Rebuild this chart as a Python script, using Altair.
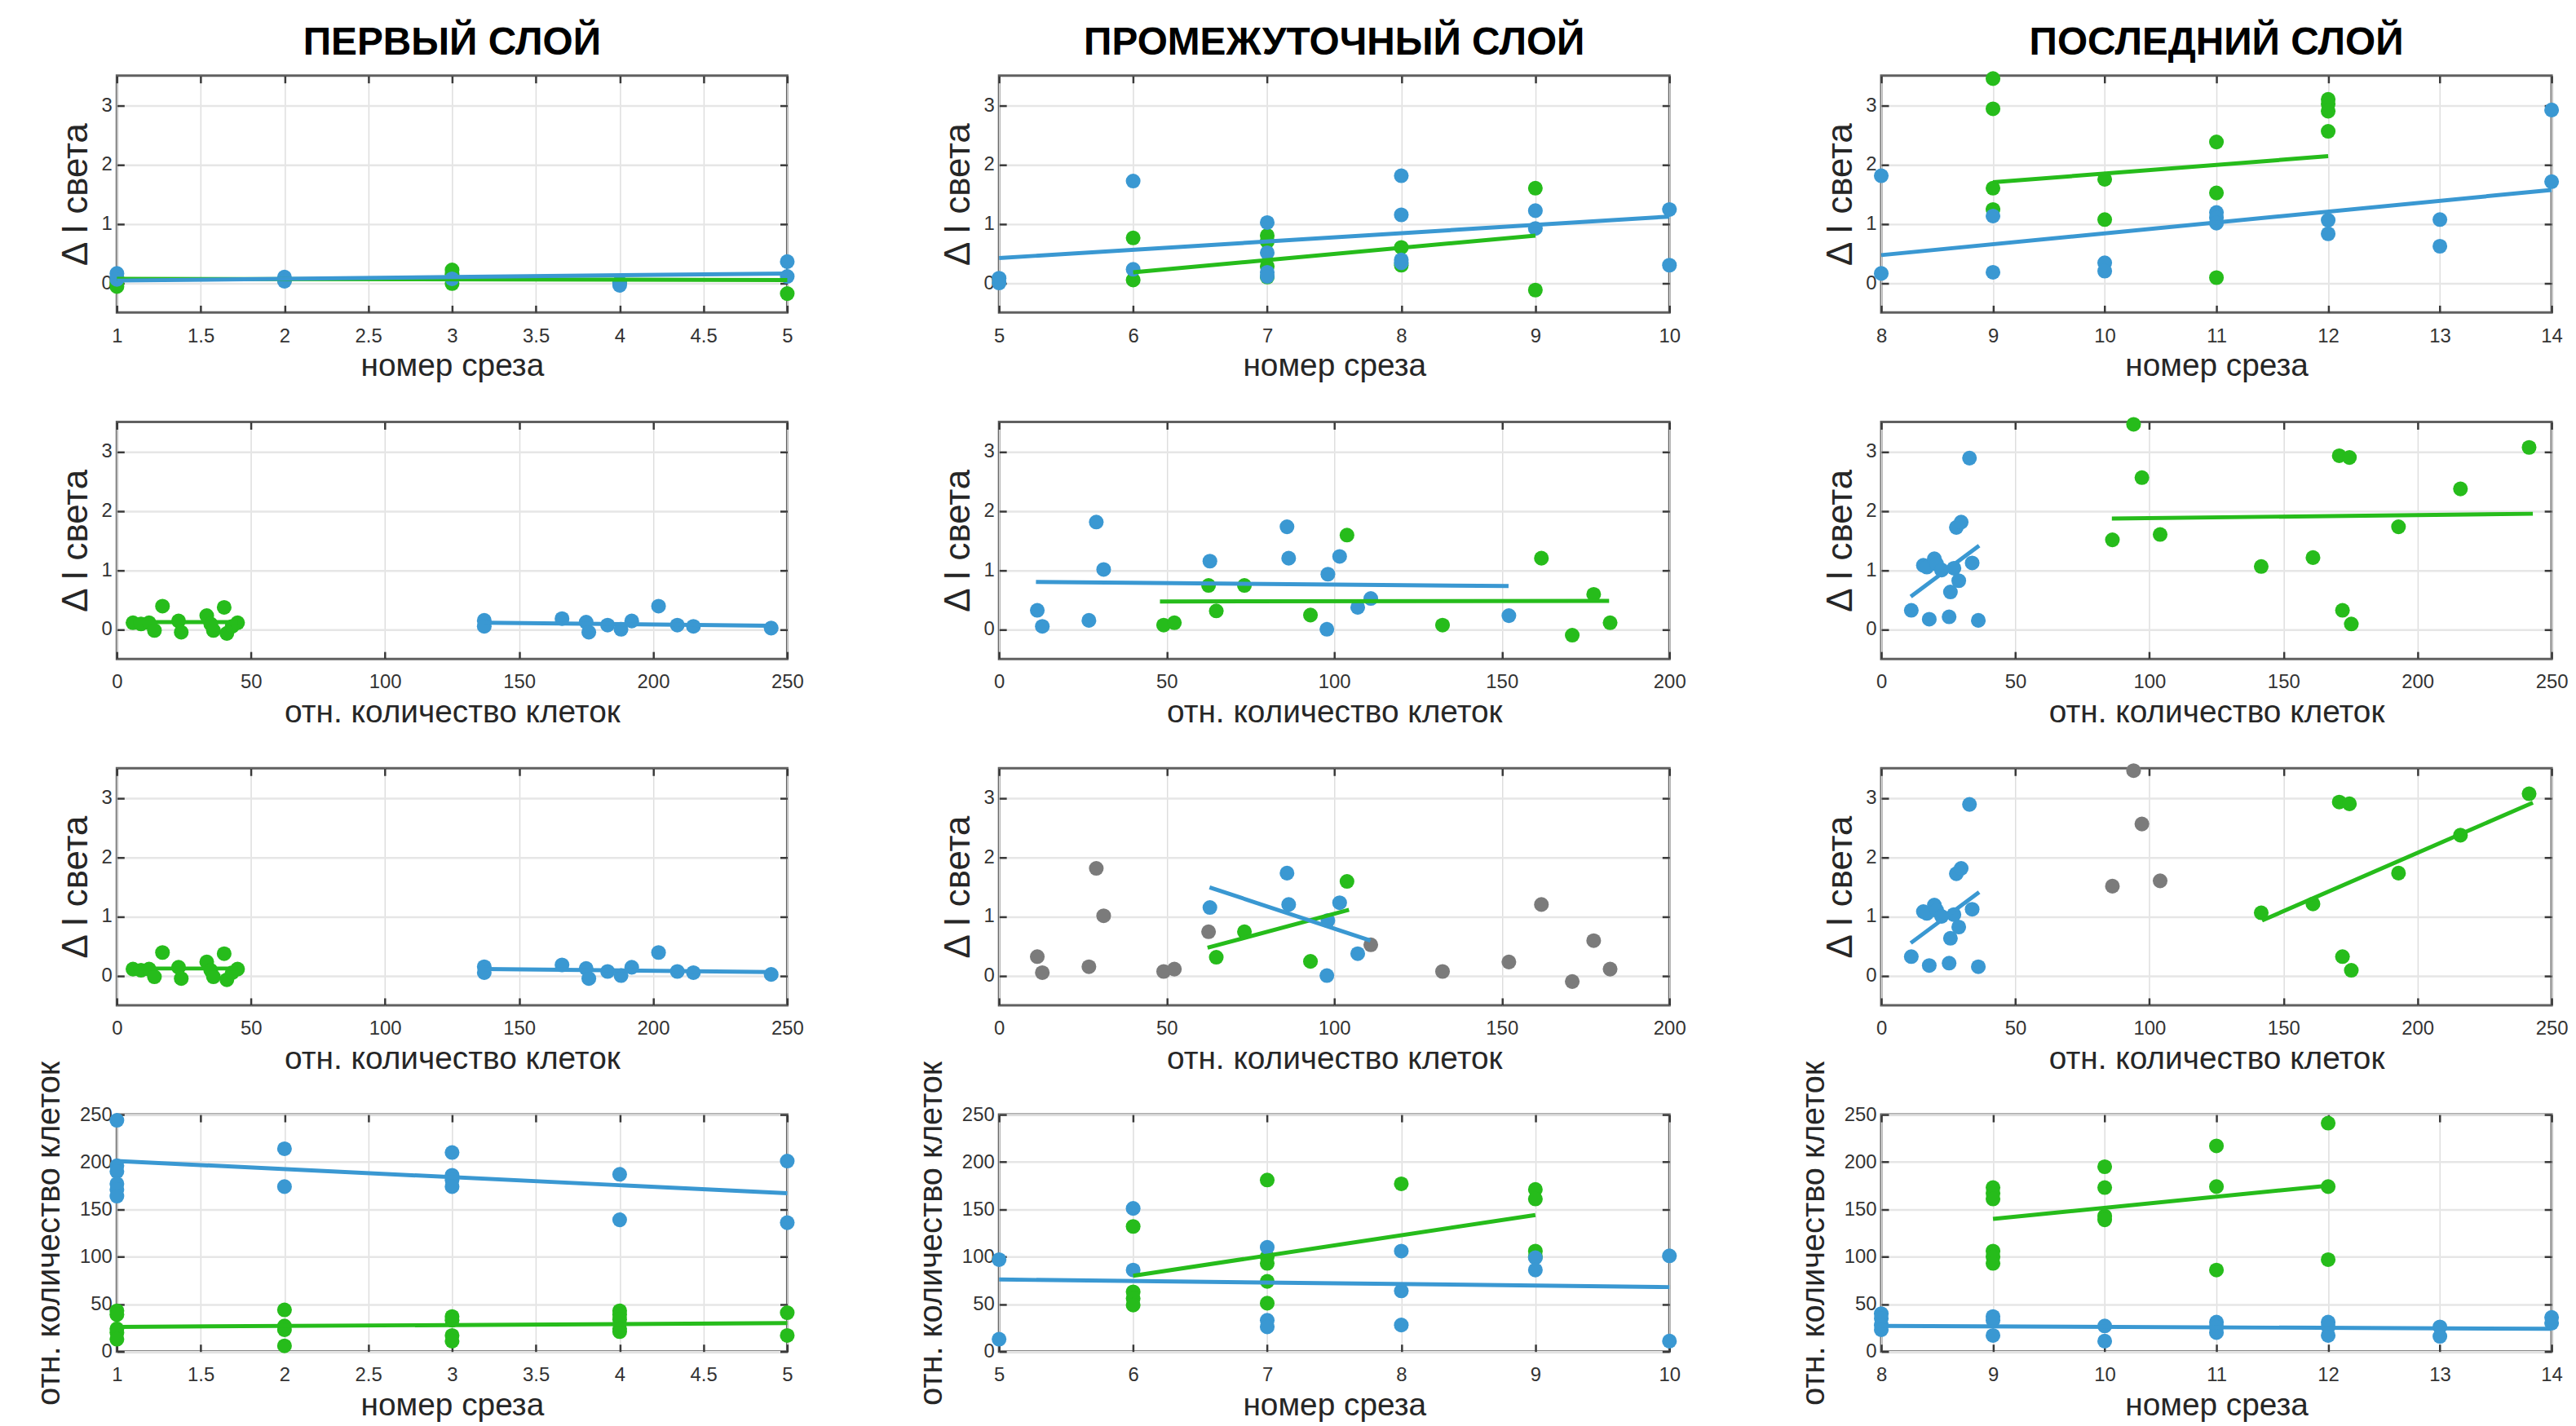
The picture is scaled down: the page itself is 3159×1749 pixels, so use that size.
import altair as alt
import pandas as pd

BLUE = "#3a98d2"
GREEN = "#26bc1b"
GRAY = "#7b7b7b"
FONT = "Liberation Sans"

col_titles = ["ПЕРВЫЙ СЛОЙ", "ПРОМЕЖУТОЧНЫЙ СЛОЙ", "ПОСЛЕДНИЙ СЛОЙ"]
x_title_slice = "номер среза"
x_title_cells = "отн. количество клеток"
y_title_light = "Δ I света"
y_title_cells = "отн. количество клеток"

slice_domains = [[1, 5], [5, 10], [8, 14]]
slice_ticks = [[1, 1.5, 2, 2.5, 3, 3.5, 4, 4.5, 5], [5, 6, 7, 8, 9, 10], [8, 9, 10, 11, 12, 13, 14]]
cells_domains = [[0, 250], [0, 200], [0, 250]]
cells_ticks = [[0, 50, 100, 150, 200, 250], [0, 50, 100, 150, 200], [0, 50, 100, 150, 200, 250]]
light_domain = [-0.5, 3.5]
light_ticks = [0, 1, 2, 3]
count_domain = [0, 250]
count_ticks = [0, 50, 100, 150, 200, 250]

# ---------- row 1: Δ I света vs номер среза ----------
r1c1_blue_x = [1, 1, 1, 2, 2, 3, 4, 4, 5, 5]
r1c1_blue_y = [0.16, 0.1, 0.06, 0.1, 0.03, 0.07, 0.01, -0.04, 0.36, 0.11]
r1c1_green_x = [1, 1, 2, 3, 3, 3, 4, 5]
r1c1_green_y = [0.0, -0.06, 0.05, 0.22, 0.15, -0.01, 0.0, -0.18]
r1c1_fit = {"green": (1, 0.07, 5, 0.05), "blue": (1, 0.04, 5, 0.16)}

r1c2_blue_x = [5, 5, 6, 6, 7, 7, 7, 7, 8, 8, 8, 8, 9, 9, 10, 10]
r1c2_blue_y = [0.08, 0.0, 1.72, 0.23, 1.02, 0.51, 0.18, 0.11, 1.81, 1.15, 0.39, 0.34, 1.22, 0.92, 1.24, 0.3]
r1c2_green_x = [6, 6, 7, 7, 7, 7, 8, 8, 9, 9]
r1c2_green_y = [0.76, 0.05, 0.8, 0.7, 0.28, 0.1, 0.6, 0.3, 1.6, -0.12]
r1c2_fit = {"green": (6, 0.18, 9, 0.8), "blue": (5, 0.42, 10, 1.12)}

r1c3_blue_x = [8, 8, 9, 9, 10, 10, 11, 11, 11, 12, 12, 13, 13, 14, 14]
r1c3_blue_y = [1.81, 0.16, 1.13, 0.18, 0.34, 0.2, 1.19, 1.1, 1.01, 1.06, 0.83, 1.07, 0.62, 2.92, 1.71]
r1c3_green_x = [9, 9, 9, 9, 10, 10, 11, 11, 11, 12, 12, 12, 12]
r1c3_green_y = [3.45, 2.94, 1.6, 1.24, 1.75, 1.07, 2.38, 1.52, 0.09, 3.1, 3.02, 2.9, 2.56]
r1c3_fit = {"green": (9, 1.7, 12, 2.14), "blue": (8, 0.47, 14, 1.57)}

# ---------- rows 2 and 3: Δ I света vs отн. количество клеток ----------
r2c1_blue_x = [137, 137, 166, 175, 176, 183, 188, 192, 202, 209, 215, 244]
r2c1_blue_y = [0.15, 0.05, 0.18, 0.12, -0.05, 0.07, 0.0, 0.14, 0.39, 0.07, 0.05, 0.02]
r2c1_green_x = [6, 9, 12, 14, 17, 23, 24, 33.5, 35, 36, 40, 41, 43, 45]
r2c1_green_y = [0.11, 0.09, 0.11, -0.02, 0.39, 0.14, -0.05, 0.23, 0.09, -0.02, 0.37, -0.07, 0.05, 0.11]
r2c1_fit = {"green": (6, 0.12, 45, 0.12), "blue": (137, 0.11, 244, 0.06)}

r2c2_blue_x = [11.4, 12.9, 26.8, 29, 31.2, 62.9, 85.9, 86.4, 98.1, 97.8, 101.6, 107, 110.9, 152.1]
r2c2_blue_y = [0.32, 0.05, 0.15, 1.81, 1.01, 1.15, 1.73, 1.2, 0.93, 0.0, 1.23, 0.37, 0.52, 0.23]
r2c2_green_x = [49.1, 52.3, 62.5, 64.8, 73.2, 92.9, 103.8, 132.3, 161.8, 171, 177.4, 182.3]
r2c2_green_y = [0.07, 0.11, 0.74, 0.31, 0.74, 0.24, 1.59, 0.07, 1.2, -0.1, 0.59, 0.11]
r2c2_fit = {"green": (48, 0.47, 182, 0.48), "blue": (11, 0.8, 152, 0.73)}

r2c3_blue_x = [11.2, 17.9, 25.3, 36.2, 15.7, 17, 19.8, 20.7, 22.5, 25.8, 27.1, 28, 29.8, 28.9, 32.9, 33.9]
r2c3_blue_y = [0.32, 0.17, 0.21, 0.15, 1.08, 1.05, 1.19, 1.1, 1.0, 0.63, 1.03, 1.72, 1.81, 0.82, 2.89, 1.12]
r2c3_green_x = [86.2, 94.1, 97.2, 104, 141.7, 161, 170.8, 174.6, 172, 175.3, 192.9, 216, 241.6]
r2c3_green_y = [1.51, 3.46, 2.56, 1.6, 1.06, 1.21, 2.93, 2.9, 0.32, 0.09, 1.73, 2.37, 3.07]
r2c3_fit = {"green": (86, 1.87, 243, 1.95), "blue": (11, 0.55, 36.5, 1.41)}

# row 3 re-uses the row-2 points; some of them are greyed out
r3c1_blue_cls = ["blue"] * 12
r3c1_green_cls = ["green"] * 14
r3c1_fit = {"green": (6, 0.12, 45, 0.12), "blue": (137, 0.11, 244, 0.06)}

r3c2_blue_cls = ["gray", "gray", "gray", "gray", "gray", "blue", "blue", "blue", "blue", "blue", "blue", "blue", "gray", "gray"]
r3c2_green_cls = ["gray", "gray", "gray", "green", "green", "green", "green", "gray", "gray", "gray", "gray", "gray"]
r3c2_fit = {"green": (62.2, 0.47, 104.4, 1.11), "blue": (62.8, 1.49, 110.8, 0.59)}

r3c3_blue_cls = ["blue"] * 16
r3c3_green_cls = ["gray", "gray", "gray", "gray"] + ["green"] * 9
r3c3_fit = {"green": (142, 0.93, 243, 2.92), "blue": (11, 0.55, 36.5, 1.41)}

# ---------- row 4: отн. количество клеток vs номер среза ----------
r4c1_blue_x = [1, 1, 1, 1, 1, 1, 2, 2, 3, 3, 3, 3, 4, 4, 5, 5]
r4c1_blue_y = [244, 196, 190, 177, 171, 164, 214, 174, 210, 186, 181, 174, 187, 139, 201, 136]
r4c1_green_x = [1, 1, 1, 1, 1, 2, 2, 2, 2, 3, 3, 3, 3, 4, 4, 4, 4, 4, 5, 5]
r4c1_green_y = [43, 39, 24, 20, 13, 44, 27, 23, 6, 37, 33, 17, 11, 43, 39, 34, 24, 21, 41, 17]
r4c1_fit = {"green": (1, 26, 5, 30), "blue": (1, 201, 5, 167)}

r4c2_blue_x = [5, 5, 6, 6, 7, 7, 7, 8, 8, 8, 9, 9, 10, 10]
r4c2_blue_y = [97, 13, 151, 86, 110, 33, 26, 106, 64, 28, 99, 86, 101, 11]
r4c2_green_x = [6, 6, 6, 6, 7, 7, 7, 7, 7, 8, 9, 9, 9, 9]
r4c2_green_y = [132, 63, 56, 49, 181, 100, 93, 74, 51, 177, 171, 161, 106, 100]
r4c2_fit = {"green": (6, 80, 9, 144), "blue": (5, 76, 10, 68)}

r4c3_blue_x = [8, 8, 8, 8, 9, 9, 9, 10, 10, 11, 11, 11, 12, 12, 12, 13, 13, 14, 14]
r4c3_blue_y = [40, 35, 28, 23, 37, 33, 17, 27, 11, 31, 26, 20, 31, 26, 17, 26, 16, 36, 30]
r4c3_green_x = [9, 9, 9, 9, 9, 9, 10, 10, 10, 10, 11, 11, 11, 12, 12, 12]
r4c3_green_y = [173, 167, 161, 106, 100, 93, 195, 173, 143, 139, 217, 174, 86, 241, 174, 97]
r4c3_fit = {"green": (9, 140, 12, 175), "blue": (8, 27, 14, 24)}

ORDER = {"gray": 0, "green": 1, "blue": 2}
CSCALE = alt.Scale(domain=["gray", "green", "blue"], range=[GRAY, GREEN, BLUE])
W, H = 826, 292
TICK = 9


def points(series):
    rows = []
    for cls, xs, ys in series:
        if isinstance(cls, str):
            cls = [cls] * len(xs)
        for c, a, b in zip(cls, xs, ys):
            rows.append({"x": a, "y": b, "c": c, "o": ORDER[c]})
    return pd.DataFrame(rows).sort_values("o", kind="stable")


def fits(fit):
    rows = []
    for c in ["green", "blue"]:
        x0, y0, x1, y1 = fit[c]
        rows.append({"x": x0, "y": y0, "x2": x1, "y2": y1, "c": c})
    return pd.DataFrame(rows)


def inner_ticks(orient, values):
    # MATLAB-style ticks drawn inside the axes box
    return alt.Axis(orient=orient, values=values, labels=False, ticks=True, tickSize=TICK,
                    offset=-TICK, tickColor="#3a3a3a", tickWidth=2.5, domain=False,
                    grid=False, title=None)


def panel(pts, fit, xdom, xticks, ydom, yticks, xtitle, ytitle, ytx, title=None):
    xs = alt.Scale(domain=xdom, nice=False, zero=False)
    ys = alt.Scale(domain=ydom, nice=False, zero=False)
    xax = alt.Axis(values=xticks, format="~f", title=xtitle, grid=True,
                   gridColor="#dedede", gridWidth=1.5, domain=False, ticks=False, tickSize=0,
                   labelFlush=False, labelOverlap=False, labelPadding=17,
                   labelFont=FONT, labelFontSize=24, labelColor="#333333",
                   titleFont=FONT, titleFontSize=39, titleFontWeight="normal",
                   titleColor="#262626", titlePadding=6)
    yax = alt.Axis(values=yticks, format="~f", title=ytitle, grid=True,
                   gridColor="#e6e6e6", gridWidth=2.5, domain=False, ticks=False, tickSize=0,
                   labelOverlap=False, labelPadding=6,
                   labelFont=FONT, labelFontSize=24, labelColor="#333333",
                   titleFont=FONT, titleFontSize=44 if ytitle == y_title_light else 40,
                   titleFontWeight="normal", titleColor="#262626",
                   titleX=ytx, titleBaseline="middle")
    p = alt.Chart(pts).mark_circle(size=330, opacity=1).encode(
        x=alt.X("x:Q", scale=xs, axis=xax),
        y=alt.Y("y:Q", scale=ys, axis=yax),
        color=alt.Color("c:N", scale=CSCALE, legend=None),
    )
    l = alt.Chart(fits(fit)).mark_rule(strokeWidth=5, strokeCap="butt").encode(
        x=alt.X("x:Q", scale=xs, axis=None),
        y=alt.Y("y:Q", scale=ys, axis=None),
        x2="x2:Q",
        y2="y2:Q",
        color=alt.Color("c:N", scale=CSCALE, legend=None),
    )
    tk1 = alt.Chart(pts).mark_point(opacity=0).encode(
        x=alt.X("x:Q", scale=xs, axis=inner_ticks("top", xticks)),
        y=alt.Y("y:Q", scale=ys, axis=inner_ticks("right", yticks)),
    )
    tk2 = alt.Chart(pts).mark_point(opacity=0).encode(
        x=alt.X("x:Q", scale=xs, axis=inner_ticks("bottom", xticks)),
        y=alt.Y("y:Q", scale=ys, axis=inner_ticks("left", yticks)),
    )
    layers = [p, l, tk1, tk2]
    if title:
        t = alt.Chart(pd.DataFrame({"t": [title]})).mark_text(
            font=FONT, fontSize=48, fontWeight="bold", color="black",
            align="center", baseline="alphabetic",
        ).encode(x=alt.value(W / 2), y=alt.value(-26), text="t:N")
        layers.append(t)
    return alt.layer(*layers).resolve_axis(x="independent", y="independent").properties(width=W, height=H)


panels = []
row1 = [
    (points([("green", r1c1_green_x, r1c1_green_y), ("blue", r1c1_blue_x, r1c1_blue_y)]), r1c1_fit),
    (points([("green", r1c2_green_x, r1c2_green_y), ("blue", r1c2_blue_x, r1c2_blue_y)]), r1c2_fit),
    (points([("green", r1c3_green_x, r1c3_green_y), ("blue", r1c3_blue_x, r1c3_blue_y)]), r1c3_fit),
]
for i, (pts, fit) in enumerate(row1):
    panels.append(panel(pts, fit, slice_domains[i], slice_ticks[i], light_domain, light_ticks,
                        x_title_slice, y_title_light, -50, col_titles[i]))
row2 = [
    (points([("green", r2c1_green_x, r2c1_green_y), ("blue", r2c1_blue_x, r2c1_blue_y)]), r2c1_fit),
    (points([("green", r2c2_green_x, r2c2_green_y), ("blue", r2c2_blue_x, r2c2_blue_y)]), r2c2_fit),
    (points([("green", r2c3_green_x, r2c3_green_y), ("blue", r2c3_blue_x, r2c3_blue_y)]), r2c3_fit),
]
for i, (pts, fit) in enumerate(row2):
    panels.append(panel(pts, fit, cells_domains[i], cells_ticks[i], light_domain, light_ticks,
                        x_title_cells, y_title_light, -50))
row3 = [
    (points([(r3c1_green_cls, r2c1_green_x, r2c1_green_y), (r3c1_blue_cls, r2c1_blue_x, r2c1_blue_y)]), r3c1_fit),
    (points([(r3c2_green_cls, r2c2_green_x, r2c2_green_y), (r3c2_blue_cls, r2c2_blue_x, r2c2_blue_y)]), r3c2_fit),
    (points([(r3c3_green_cls, r2c3_green_x, r2c3_green_y), (r3c3_blue_cls, r2c3_blue_x, r2c3_blue_y)]), r3c3_fit),
]
for i, (pts, fit) in enumerate(row3):
    panels.append(panel(pts, fit, cells_domains[i], cells_ticks[i], light_domain, light_ticks,
                        x_title_cells, y_title_light, -50))
row4 = [
    (points([("green", r4c1_green_x, r4c1_green_y), ("blue", r4c1_blue_x, r4c1_blue_y)]), r4c1_fit),
    (points([("green", r4c2_green_x, r4c2_green_y), ("blue", r4c2_blue_x, r4c2_blue_y)]), r4c2_fit),
    (points([("green", r4c3_green_x, r4c3_green_y), ("blue", r4c3_blue_x, r4c3_blue_y)]), r4c3_fit),
]
for i, (pts, fit) in enumerate(row4):
    panels.append(panel(pts, fit, slice_domains[i], slice_ticks[i], count_domain, count_ticks,
                        x_title_slice, y_title_cells, -83))

chart = alt.concat(*panels, columns=3, spacing={"row": 134.8, "column": 261}, bounds="flush").properties(
    padding={"left": 31, "top": 15, "right": 0, "bottom": 0},
    background="white",
).configure_view(stroke="#606060", strokeWidth=3)

chart.save("out.html", embed_options={"renderer": "svg", "actions": False})
